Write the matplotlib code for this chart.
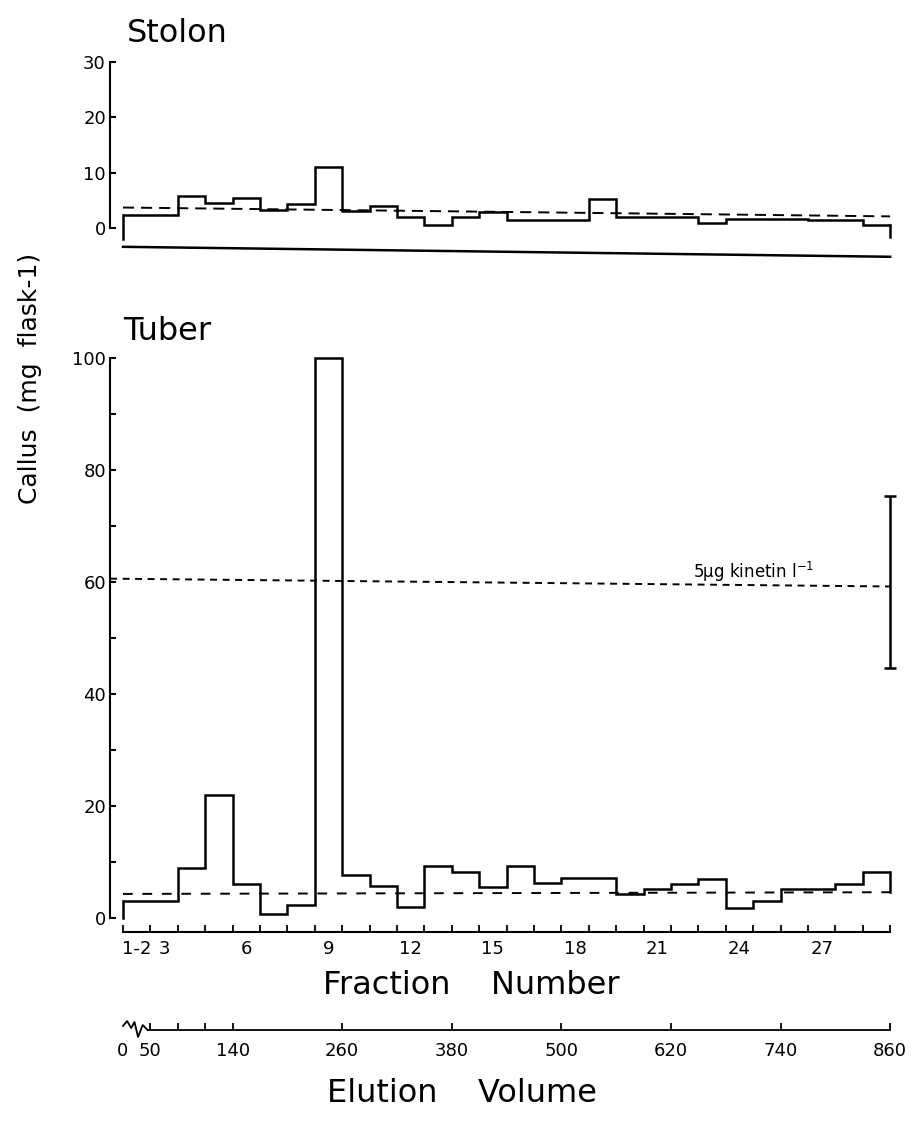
import matplotlib
matplotlib.use('Agg')
import matplotlib.pyplot as plt
import numpy as np

plt.rcParams['font.family'] = ['DejaVu Sans']
plt.rcParams['lines.scale_dashes'] = False

# column fractions: 1-2 pooled, then 3..29 -> 28 bins
n_bins = 28
fraction_labels = ['1-2', '3', '6', '9', '12', '15', '18', '21', '24', '27']
fraction_label_bins = [0, 1, 4, 7, 10, 13, 16, 19, 22, 25]

# callus yield (mg flask-1) per bin
stolon = [2.4, 2.4, 5.7, 4.5, 5.4, 3.3, 4.3, 11.0, 3.0, 4.0, 2.0, 0.6, 2.0, 2.9,
          1.5, 1.5, 1.5, 5.3, 1.9, 1.9, 1.9, 0.9, 1.7, 1.6, 1.6, 1.5, 1.4, 0.5]
tuber = [3.0, 3.0, 9.0, 22.0, 6.0, 0.8, 2.4, 100.0, 7.6, 5.7, 1.9, 9.3, 8.3, 5.5,
         9.2, 6.2, 7.2, 7.2, 4.3, 5.1, 6.1, 7.0, 1.8, 3.0, 5.2, 5.2, 6.1, 8.2]

# start / end values of the reference lines
stolon_control = [3.7, 2.1]
stolon_base = [-3.4, -5.2]
stolon_ends = [-2.0, -1.6]
tuber_control = [4.3, 4.6]
tuber_ends = [0.0, 4.6]
kinetin_level = [60.6, 59.2]
kinetin_mean = 60.0
kinetin_err = 15.3

# elution volume (ml) axis
elution_volumes = [0, 50, 80, 110, 140, 260, 380, 500, 620, 740, 860]
elution_labels = ['0', '50', '', '', '140', '260', '380', '500', '620', '740', '860']


def vol_to_bin(v):
    # ~30 ml per fraction, axis broken before 50 ml
    return max(8 + (v - 260) / 30.0, 0)


W, H = 911, 1123
fig = plt.figure(figsize=(W / 100, H / 100), dpi=100)


def box(x0, y0, x1, y1):
    return [x0 / W, 1 - y1 / H, (x1 - x0) / W, (y1 - y0) / H]


X0, X1 = 110.1, 898.4
xlim = (-0.47, 28.3)
edges = np.arange(n_bins + 1)
lw = 1.8

# ---- stolon ----
ax_s = fig.add_axes(box(X0, 62, X1, 228))
ax_s.stairs(stolon, edges, baseline=None, color='k', lw=lw, clip_on=False)
ax_s.plot([edges[0], edges[0]], [stolon[0], stolon_ends[0]], 'k', lw=lw, clip_on=False)
ax_s.plot([edges[-1], edges[-1]], [stolon[-1], stolon_ends[1]], 'k', lw=lw, clip_on=False)
ax_s.plot([edges[0], edges[-1]], stolon_base, 'k', lw=lw, clip_on=False)
ax_s.plot([edges[0], edges[-1]], stolon_control, 'k', lw=1.4, dashes=(8, 5), clip_on=False)
ax_s.set_xlim(xlim)
ax_s.set_ylim(0, 30)
for s in ['top', 'right', 'bottom']:
    ax_s.spines[s].set_visible(False)
ax_s.spines['left'].set_linewidth(1.5)
ax_s.set_xticks([])
ax_s.set_yticks([0, 10, 20, 30])
ax_s.tick_params(axis='y', direction='in', length=4.5, width=1.5, labelsize=13, pad=3)

# ---- tuber ----
ax_t = fig.add_axes(box(X0, 358, X1, 918))
ax_t.stairs(tuber, edges, baseline=None, color='k', lw=lw, clip_on=False)
ax_t.plot([edges[0], edges[0]], [tuber[0], tuber_ends[0]], 'k', lw=lw, clip_on=False)
ax_t.plot([edges[-1], edges[-1]], [tuber[-1], tuber_ends[1]], 'k', lw=lw, clip_on=False)
ax_t.plot([edges[0], edges[-1]], tuber_control, 'k', lw=1.4, dashes=(7, 7), clip_on=False)
ax_t.plot([xlim[0], edges[-1]], kinetin_level, 'k', lw=1.4, dashes=(5, 4), clip_on=False)
ax_t.errorbar([edges[-1]], [kinetin_mean], yerr=[kinetin_err], color='k', lw=1.8,
              capsize=4, capthick=1.8, clip_on=False)
ax_t.text(23.0, kinetin_level[1] + 0.4, '5\u00b5g kinetin l$^{-1}$', fontsize=12,
          ha='center', va='bottom')
ax_t.set_xlim(xlim)
ax_t.set_ylim(0, 100)
for s in ['top', 'right']:
    ax_t.spines[s].set_visible(False)
ax_t.spines['left'].set_linewidth(1.5)
ax_t.spines['left'].set_bounds(0, 100)
ax_t.spines['bottom'].set_position(('outward', 10))
ax_t.spines['bottom'].set_bounds(edges[0], edges[-1])
ax_t.spines['bottom'].set_linewidth(1.5)
ax_t.set_yticks(np.arange(0, 101, 20))
ax_t.set_yticks(np.arange(10, 100, 20), minor=True)
ax_t.tick_params(axis='y', which='both', direction='in', length=4.5, width=1.5,
                 labelsize=13, pad=3)
ax_t.set_xticks(edges)
ax_t.set_xticklabels([])
ax_t.set_xticks(np.array(fraction_label_bins) + 0.5, minor=True)
ax_t.set_xticklabels(fraction_labels, minor=True)
ax_t.tick_params(axis='x', which='major', direction='in', length=5, width=1.3)
ax_t.tick_params(axis='x', which='minor', length=0, labelsize=13, pad=6)

# ---- elution volume axis ----
ax_v = fig.add_axes(box(X0, 1010, X1, 1030))
ax_v.set_xlim(xlim)
ax_v.set_ylim(0, 1)
for s in ['top', 'right', 'left']:
    ax_v.spines[s].set_visible(False)
ax_v.patch.set_visible(False)
ax_v.spines['bottom'].set_bounds(0.9, edges[-1])
ax_v.spines['bottom'].set_linewidth(1.3)
ax_v.set_yticks([])
ax_v.set_xticks([vol_to_bin(v) for v in elution_volumes])
ax_v.set_xticklabels(elution_labels)
ax_v.tick_params(axis='x', direction='in', length=5, width=1.3, labelsize=13, pad=9)
ax_v.xaxis.get_major_ticks()[0].tick1line.set_visible(False)
# broken-axis squiggle between 0 and 50 ml
ax_v.plot([0.0, 0.15, 0.3, 0.42, 0.55, 0.72, 0.9], [0.2, 0.45, 0.1, 0.4, -0.35, 0.25, 0.0],
          'k', lw=1.3, clip_on=False)

# ---- texts ----
fig.text(127 / W, 1 - 33 / H, 'Stolon', fontsize=23, ha='left', va='center')
fig.text(123 / W, 1 - 332 / H, 'Tuber', fontsize=23, ha='left', va='center')
fig.text(30 / W, 1 - 378 / H, 'Callus  (mg  flask-1)', fontsize=18, rotation=90,
         ha='center', va='center')
fig.text(471 / W, 1 - 985 / H, 'Fraction    Number', fontsize=23, ha='center', va='center')
fig.text(462 / W, 1 - 1093 / H, 'Elution    Volume', fontsize=23, ha='center', va='center')

fig.savefig('out.png', dpi=100)
